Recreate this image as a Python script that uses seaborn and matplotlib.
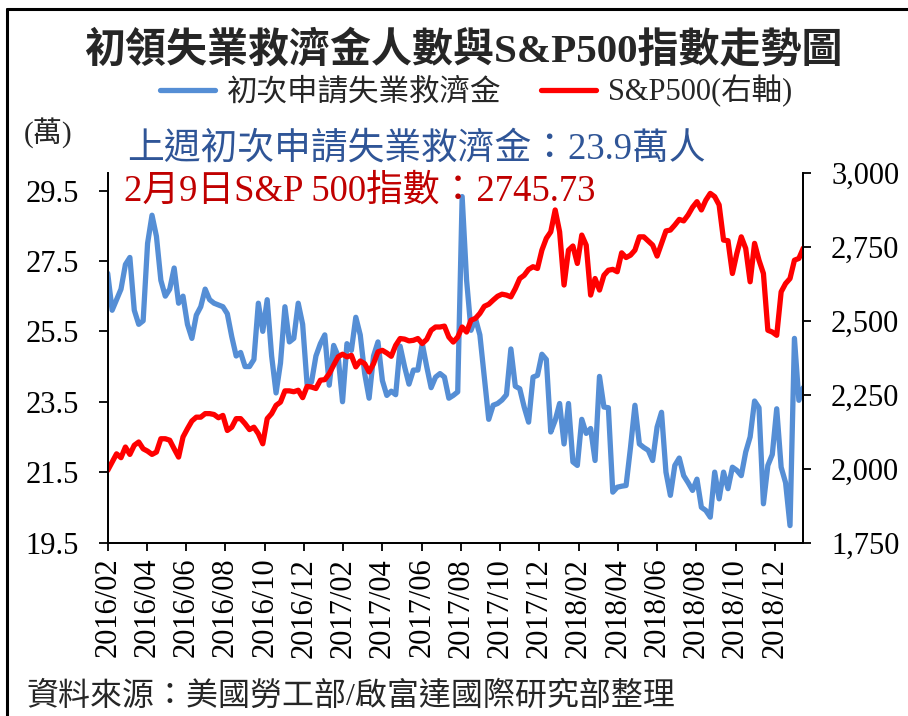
import matplotlib
matplotlib.use("Agg")
import matplotlib.pyplot as plt
import matplotlib.ticker as mticker
from matplotlib.lines import Line2D
import numpy as np
import pandas as pd
import seaborn as sns

# weekly observations, last week = 2019-02-09
LAST_WEEK = "2019-02-09"

# initial jobless claims (萬人)
CLAIMS = [
    27.15, 26.1, 26.4, 26.7, 27.4, 27.6, 26.1, 25.7, 25.8, 28.0,
    28.8, 28.2, 26.95, 26.5, 26.7, 27.3, 26.3, 26.5, 25.7, 25.3,
    25.96, 26.2, 26.7, 26.4, 26.3, 26.25, 26.2, 26.0, 25.35, 24.8,
    24.9, 24.5, 24.5, 24.7, 26.3, 25.5, 26.4, 24.8, 23.75, 24.6,
    26.2, 25.2, 25.3, 26.3, 25.7, 24.0, 24.06, 24.8, 25.15, 25.4,
    23.97, 25.1,
    24.8, 23.5, 25.15, 24.96, 25.9, 25.4, 24.3, 23.6, 24.8, 25.2,
    24.1, 23.68, 23.8, 23.7, 25.08, 24.5, 24.0, 24.4, 24.4, 25.15,
    24.5, 23.9, 24.2, 24.3, 24.2, 23.6, 23.68, 23.78, 29.33, 26.96,
    25.53, 25.87, 25.4, 24.2, 23.0, 23.4, 23.45, 23.55, 23.7, 25.0,
    23.94, 23.87, 23.35, 22.92, 24.2, 24.25, 24.85, 24.7, 22.64, 22.97,
    23.45, 22.3, 23.45,
    21.79, 21.69, 23.0, 22.6, 22.74, 21.83, 24.22, 23.35, 23.33, 20.93,
    21.07, 21.1, 21.12, 22.2, 23.4, 22.3, 22.2, 22.12, 21.83, 22.78,
    23.2, 21.5, 20.84, 21.69, 21.9, 21.4, 21.2, 20.98, 21.3, 20.5,
    20.41, 20.22, 21.5, 20.74, 21.5, 21.03, 21.64, 21.55, 21.4, 22.07,
    22.5, 23.52, 23.33, 20.6, 21.69, 22.0, 23.3, 21.64, 21.2, 19.98,
    25.3, 23.54, 23.9,
]

# S&P 500 index (right axis)
SP500 = [
    1994, 2022, 2050, 2037, 2073, 2048, 2079, 2090, 2067, 2059,
    2048, 2056, 2101, 2101, 2096, 2067, 2039, 2107, 2135, 2161,
    2174, 2174, 2186, 2186, 2183, 2172, 2180, 2129, 2140, 2169,
    2169, 2152, 2132, 2140, 2118, 2084, 2169, 2186, 2214, 2225,
    2263, 2263, 2260, 2265, 2240, 2278, 2276, 2271, 2299, 2301,
    2321, 2350, 2378,
    2387, 2378, 2383, 2344, 2364, 2355, 2327, 2355, 2395, 2400,
    2391, 2380, 2417, 2440, 2438, 2432, 2434, 2440, 2423, 2437,
    2468, 2479, 2479, 2482, 2445, 2428, 2445, 2479, 2462, 2502,
    2508, 2525, 2549, 2556, 2570, 2583, 2590, 2587, 2581, 2609,
    2643, 2654, 2674, 2683, 2677, 2739, 2779, 2801, 2875, 2801,
    2621, 2739,
    2753, 2694, 2790, 2756, 2587, 2643, 2604, 2654, 2671, 2674,
    2666, 2730, 2714, 2722, 2739, 2784, 2784, 2770, 2756, 2719,
    2762, 2804, 2807, 2824, 2843, 2838, 2858, 2884, 2903, 2875,
    2908, 2931, 2920, 2892, 2773, 2771, 2660, 2728, 2784, 2745,
    2632, 2762, 2705, 2660, 2468, 2462, 2451, 2598, 2626, 2643,
    2705, 2711, 2745.73,
]

TICK_LABELS = [
    "2016/02", "2016/04", "2016/06", "2016/08", "2016/10", "2016/12",
    "2017/02", "2017/04", "2017/06", "2017/08", "2017/10", "2017/12",
    "2018/02", "2018/04", "2018/06", "2018/08", "2018/10", "2018/12",
]
CLAIMS_TICKS = [19.5, 21.5, 23.5, 25.5, 27.5, 29.5]
SP_TICKS = [1750, 2000, 2250, 2500, 2750, 3000]

TITLE = "初領失業救濟金人數與S&P500指數走勢圖"
CLAIMS_NAME = "初次申請失業救濟金"
SP_NAME = "S&P500(右軸)"
SOURCE = "資料來源：美國勞工部/啟富達國際研究部整理"

BLUE = "#558ED5"
RED = "#FF0000"
FONT = ["Liberation Serif", "Noto Sans CJK TC", "DejaVu Sans"]

sns.set_style("white")
plt.rcParams["font.family"] = FONT

df = pd.DataFrame({
    "date": pd.date_range(end=LAST_WEEK, periods=len(CLAIMS), freq="7D"),
    "claims": CLAIMS,
    "sp500": SP500,
})

W, H = 908, 716
fig = plt.figure(figsize=(W / 100, H / 100), dpi=100)
ax = fig.add_axes([107.7 / W, 1 - 542.5 / H, 695.6 / W, 369.5 / H])

line_kw = dict(linewidth=3.8, solid_joinstyle="round", solid_capstyle="round")
sns.lineplot(data=df, x="date", y="claims", ax=ax, color=BLUE, legend=False, **line_kw)
ax2 = ax.twinx()
sns.lineplot(data=df, x="date", y="sp500", ax=ax2, color=RED, legend=False, **line_kw)

ax.set_xlim(df["date"].iloc[0], df["date"].iloc[-1])
ax.set_ylim(19.5, 30)
ax2.set_ylim(1750, 3000)
for a in (ax, ax2):
    a.set_xlabel("")
    a.set_ylabel("")
    a.spines["top"].set_visible(False)
    for s in ("left", "right", "bottom"):
        a.spines[s].set_color("black")
        a.spines[s].set_linewidth(1.3)

# two-month ticks, evenly spaced like the original category axis
tick_dates = [df["date"].iloc[0] + pd.Timedelta(days=62 * k) for k in range(len(TICK_LABELS))]
ax.set_xticks(tick_dates)
ax.set_xticklabels(TICK_LABELS, rotation=90)
ax.set_yticks(CLAIMS_TICKS)
ax.yaxis.set_major_formatter(mticker.FormatStrFormatter("%.1f"))
ax2.set_yticks(SP_TICKS)
ax2.yaxis.set_major_formatter(mticker.StrMethodFormatter("{x:,.0f}"))

ax.tick_params(axis="x", bottom=True, direction="out", length=6, width=1.3,
               labelsize=22, pad=5, colors="black")
ax.tick_params(axis="y", left=True, direction="out", length=6.5, width=1.3,
               labelsize=22, pad=14, colors="black")
ax2.tick_params(axis="y", right=True, direction="out", length=6, width=1.3,
                labelsize=22, pad=14, colors="black")

l1 = ax.get_lines()[0]
l2 = ax2.get_lines()[0]
fig.legend([l1, l2], [CLAIMS_NAME, SP_NAME], loc="center",
           bbox_to_anchor=(476 / W, 1 - 91 / H), ncol=2, frameon=False,
           fontsize=22, handlelength=1.8, handletextpad=0.4, columnspacing=1.3)

fig.text(463 / W, 1 - 51 / H, TITLE, ha="center", va="center",
         fontsize=29.5, fontweight="bold")
fig.text(24 / W, 1 - 133 / H, "(萬)", ha="left", va="center", fontsize=21)
fig.text(127 / W, 1 - 149 / H, f"上週初次申請失業救濟金：{CLAIMS[-1]:.1f}萬人",
         ha="left", va="center", fontsize=26.5, color="#2F5597")
fig.text(124 / W, 1 - 191 / H, f"2月9日S&P 500指數：{SP500[-1]:.2f}",
         ha="left", va="center", fontsize=26.5, color="#C00000")
fig.text(26 / W, 1 - 697 / H, SOURCE, ha="left", va="center", fontsize=23)

# outer frame (left and top edges visible in the original)
fig.add_artist(Line2D([6.7 / W, 6.7 / W], [0, 1 - 9.3 / H], transform=fig.transFigure,
                      color="black", linewidth=2.2))
fig.add_artist(Line2D([6.7 / W, 1], [1 - 9.3 / H, 1 - 9.3 / H], transform=fig.transFigure,
                      color="black", linewidth=2.2))

fig.savefig("out.png", dpi=100)
